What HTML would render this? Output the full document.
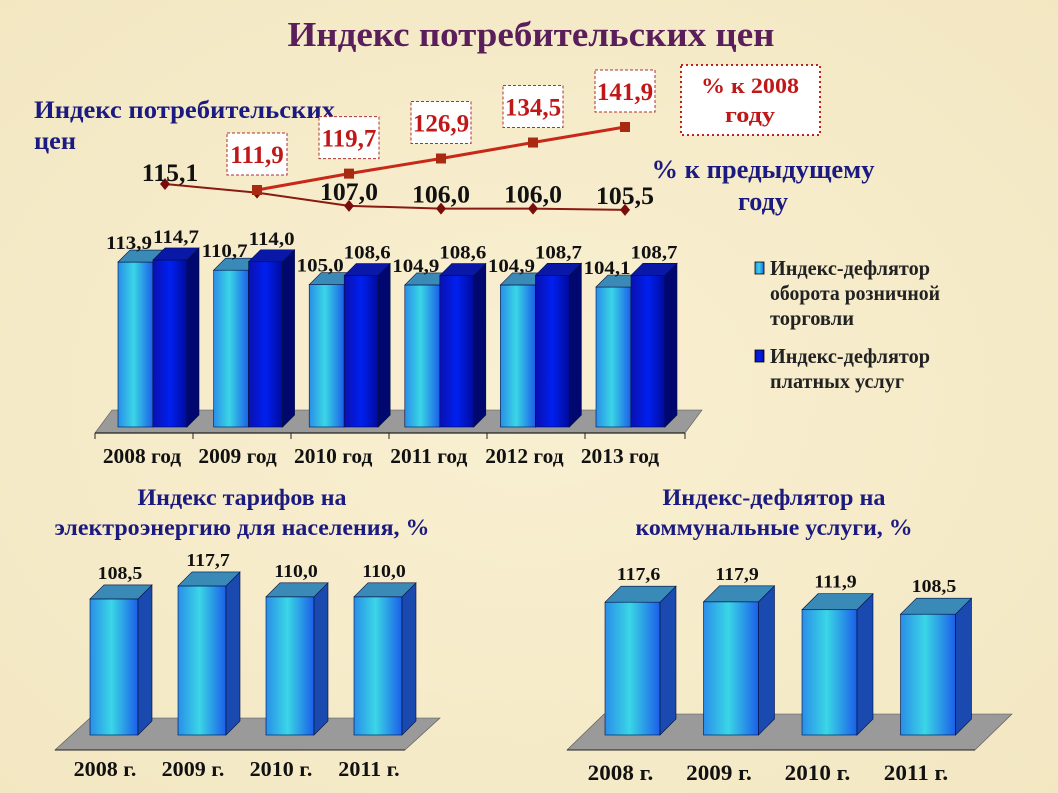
<!DOCTYPE html>
<html><head><meta charset="utf-8"><style>
body{margin:0;width:1058px;height:793px;overflow:hidden;background:#f6ecc9;font-family:"Liberation Serif",serif}
svg{position:absolute;left:0;top:0}
</style></head><body>
<svg id="s" width="1058" height="793" viewBox="0 0 1058 793">
<defs>
<linearGradient id="gl" x1="0" x2="1"><stop offset="0" stop-color="#2a8ee8"/><stop offset="0.45" stop-color="#3ad6e6"/><stop offset="1" stop-color="#1c5ee8"/></linearGradient>
<linearGradient id="gd" x1="0" x2="1"><stop offset="0" stop-color="#0a10b0"/><stop offset="0.5" stop-color="#0020f0"/><stop offset="1" stop-color="#000a9a"/></linearGradient>
<radialGradient id="bg" cx="0.5" cy="0.5" r="0.8"><stop offset="0" stop-color="#f9f0d2"/><stop offset="1" stop-color="#f2e6c0"/></radialGradient>
</defs>
<rect width="1058" height="793" fill="url(#bg)"/>
<text x="531" y="46" text-anchor="middle" font-size="35" font-weight="bold" fill="#5a1e5a" textLength="487" lengthAdjust="spacingAndGlyphs">Индекс потребительских цен</text>
<text x="34" y="118" font-size="25" font-weight="bold" fill="#1a1a80" textLength="301" lengthAdjust="spacingAndGlyphs">Индекс потребительских</text>
<text x="34" y="149" font-size="25" font-weight="bold" fill="#1a1a80" textLength="42" lengthAdjust="spacingAndGlyphs">цен</text>
<rect x="681" y="65" width="139" height="70" fill="#fff" stroke="#c02020" stroke-width="2" stroke-dasharray="2 3"/>
<text x="750" y="93" text-anchor="middle" font-size="22" font-weight="bold" fill="#c01818" textLength="98" lengthAdjust="spacingAndGlyphs">% к 2008</text>
<text x="750" y="122" text-anchor="middle" font-size="22" font-weight="bold" fill="#c01818" textLength="50" lengthAdjust="spacingAndGlyphs">году</text>
<text x="763" y="178" text-anchor="middle" font-size="26" font-weight="bold" fill="#1a1a80" textLength="223" lengthAdjust="spacingAndGlyphs">% к предыдущему</text>
<text x="763" y="210" text-anchor="middle" font-size="26" font-weight="bold" fill="#1a1a80" textLength="50" lengthAdjust="spacingAndGlyphs">году</text>
<g id="line"></g>
<g id="main"></g>
<g>
<rect x="755" y="262" width="9" height="12" fill="url(#gl)" stroke="#000" stroke-width="0.8"/>
<text x="770" y="275" font-size="21" font-weight="bold" fill="#222" textLength="160" lengthAdjust="spacingAndGlyphs">Индекс-дефлятор</text>
<text x="770" y="300" font-size="21" font-weight="bold" fill="#222" textLength="170" lengthAdjust="spacingAndGlyphs">оборота розничной</text>
<text x="770" y="325" font-size="21" font-weight="bold" fill="#222" textLength="84" lengthAdjust="spacingAndGlyphs">торговли</text>
<rect x="755" y="350" width="9" height="12" fill="url(#gd)" stroke="#000" stroke-width="0.8"/>
<text x="770" y="363" font-size="21" font-weight="bold" fill="#222" textLength="160" lengthAdjust="spacingAndGlyphs">Индекс-дефлятор</text>
<text x="770" y="388" font-size="21" font-weight="bold" fill="#222" textLength="134" lengthAdjust="spacingAndGlyphs">платных услуг</text>
</g>
<text x="242" y="505" text-anchor="middle" font-size="23" font-weight="bold" fill="#1a1a80" textLength="209" lengthAdjust="spacingAndGlyphs">Индекс тарифов на</text>
<text x="242" y="535" text-anchor="middle" font-size="23" font-weight="bold" fill="#1a1a80" textLength="375" lengthAdjust="spacingAndGlyphs">электроэнергию для населения, %</text>
<text x="774" y="505" text-anchor="middle" font-size="23" font-weight="bold" fill="#1a1a80" textLength="223" lengthAdjust="spacingAndGlyphs">Индекс-дефлятор на</text>
<text x="774" y="535" text-anchor="middle" font-size="23" font-weight="bold" fill="#1a1a80" textLength="277" lengthAdjust="spacingAndGlyphs">коммунальные услуги, %</text>
<g id="elec"></g>
<g id="util"></g>
</svg>
<script>
const years=["2008 год","2009 год","2010 год","2011 год","2012 год","2013 год"];
const prevYear=[115.1,111.9,107.0,106.0,106.0,105.5];
const cumYears=[1,2,3,4,5];
const cumulative=[111.9,119.7,126.9,134.5,141.9];
const retail=[113.9,110.7,105.0,104.9,104.9,104.1];
const services=[114.7,114.0,108.6,108.6,108.7,108.7];
const smallYears=["2008 г.","2009 г.","2010 г.","2011 г."];
const electricity=[108.5,117.7,110.0,110.0];
const utilities=[117.6,117.9,111.9,108.5];
const NS="http://www.w3.org/2000/svg";
const scaled=[];
function mk(p,t,a,txt){const e=document.createElementNS(NS,t);for(const k in a)e.setAttribute(k,a[k]);if(txt!==undefined)e.textContent=txt;p.appendChild(e);return e;}
function tx(p,a,txt,f){const e=mk(p,'text',a,txt);scaled.push([e,f]);return e;}
const fmt=v=>v.toFixed(1).replace('.',',');
// line chart
const L=document.getElementById('line');
const lx=i=>165+i*92;
const ly1=v=>184+(115.1-v)*2.7;
const ly2=v=>190-(v-111.9)*2.1;
let pts=prevYear.map((v,i)=>lx(i)+','+ly1(v)).join(' ');
let pl=mk(L,'polyline',{points:pts,fill:'none',stroke:'#8a1a10','stroke-width':2});

let pts2=cumulative.map((v,i)=>lx(cumYears[i])+','+ly2(v)).join(' ');
let pl2=mk(L,'polyline',{points:pts2,fill:'none',stroke:'#c82818','stroke-width':3});

prevYear.forEach((v,i)=>{const x=lx(i),y=ly1(v);
 const m=mk(L,'polygon',{points:`${x},${y-6} ${x+5},${y} ${x},${y+6} ${x-5},${y}`,fill:'#7a0c0c'});
 
 if(i==1)return;
 const t=tx(L,{x:x+(i==0?5:0),y:i==0?181:y-6,'text-anchor':'middle','font-size':25,'font-weight':'bold',fill:'#111'},fmt(v),1.03);
 });
cumulative.forEach((v,i)=>{const x=lx(cumYears[i]),y=ly2(v);
 const m=mk(L,'rect',{x:x-5,y:y-5,width:10,height:10,fill:'#a82a10'});
 
 const b=mk(L,'rect',{x:x-30,y:y-57,width:60,height:42,fill:'#fff',stroke:'#a33','stroke-width':1,'stroke-dasharray':'3 2'});
 
 const t=tx(L,{x:x,y:y-27,'text-anchor':'middle','font-size':25,'font-weight':'bold',fill:'#c01818'},fmt(v),1.0);
 });
// 3D bar helper
function bar(g,x,y,w,bot,d,fill,side,top,name){
 const f=mk(g,'rect',{x:x,y:y,width:w,height:bot-y,fill:fill,stroke:'#001040','stroke-width':0.6});
 
 mk(g,'polygon',{points:`${x+w},${y} ${x+w+d},${y-d} ${x+w+d},${bot-d} ${x+w},${bot}`,fill:side,stroke:'#001040','stroke-width':0.6});
 mk(g,'polygon',{points:`${x},${y} ${x+d},${y-d} ${x+w+d},${y-d} ${x+w},${y}`,fill:top,stroke:'#001040','stroke-width':0.6});
}
function floor(g,pts,name){const p=mk(g,'polygon',{points:pts,fill:'#9a9a9a',stroke:'#555','stroke-width':0.6});}
// main chart
const M=document.getElementById('main');
floor(M,'95,433 685,433 702,410 112,410','main-floor');
const my=v=>427-(v-49.2)*2.55;
years.forEach((c,i)=>{const x=118+i*95.6;
 bar(M,x,my(retail[i]),35,427,12,'url(#gl)','#1a4ab0','#3a8ab8','bar-retail');
 bar(M,x+35,my(services[i]),34,427,12,'url(#gd)','#000870','#0a18a8','bar-services');
 let t=tx(M,{x:x+11,y:my(retail[i])-13,'text-anchor':'middle','font-size':19,'font-weight':'bold',fill:'#111'},fmt(retail[i]),1.1);
 
 t=tx(M,{x:x+58,y:my(services[i])-17,'text-anchor':'middle','font-size':19,'font-weight':'bold',fill:'#111'},fmt(services[i]),1.1);
 
 t=tx(M,{x:x+24,y:463,'text-anchor':'middle','font-size':21,'font-weight':'bold',fill:'#111'},c,1.02);
 
 mk(M,'line',{x1:95+i*98,y1:433,x2:95+i*98,y2:439,stroke:'#222'});
});
mk(M,'line',{x1:95,y1:433,x2:685,y2:433,stroke:'#222','stroke-width':1.2});
mk(M,'line',{x1:685,y1:433,x2:685,y2:439,stroke:'#222'});
// small charts
function small(id,cats,vals,x0,step,w,d,scale,bot,fl,ly,lab,fs,lo){
 const G=document.getElementById(id);floor(G,fl,id+'-floor');
 const yy=v=>bot-(v-lab)*scale;
 cats.forEach((c,i)=>{const x=x0+i*step;
  bar(G,x,yy(vals[i]),w,bot,d,'url(#gl)','#1a4ab0','#3a8ab8',id+'-bar');
  let t=tx(G,{x:x+w/2+6,y:yy(vals[i])-d-6,'text-anchor':'middle','font-size':18,'font-weight':'bold',fill:'#111'},fmt(vals[i]),1.1);
  
  t=tx(G,{x:x+w/2+lo,y:ly,'text-anchor':'middle','font-size':fs,'font-weight':'bold',fill:'#111'},c,1.05);
  
 });
}
small('elec',smallYears,electricity,90,88,48,14,1.41,735,'55,750 405,750 440,718 90,718',776,12,21,-9);
mk(document.getElementById('elec'),'line',{x1:55,y1:750,x2:405,y2:750,stroke:'#222'});
small('util',smallYears,utilities,605,98.5,55,16,1.32,735,'567,750 975,750 1012,714 604,714',780,17,22,-12);
mk(document.getElementById('util'),'line',{x1:567,y1:750,x2:975,y2:750,stroke:'#222'});
scaled.forEach(([e,f])=>{const w=e.getComputedTextLength();e.setAttribute('textLength',(w*f).toFixed(1));e.setAttribute('lengthAdjust','spacingAndGlyphs');});
</script>
</body></html>
